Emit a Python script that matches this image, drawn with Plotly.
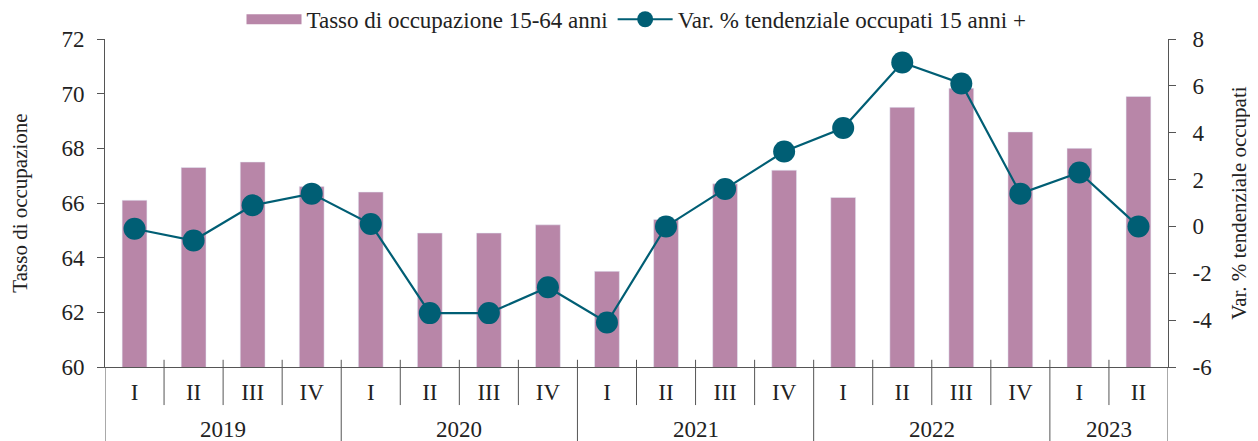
import plotly.graph_objects as go

# dati
anni = ["2019"] * 4 + ["2020"] * 4 + ["2021"] * 4 + ["2022"] * 4 + ["2023"] * 2
trimestri = ["I", "II", "III", "IV"] * 4 + ["I", "II"]

tasso_occupazione = [66.1, 67.3, 67.5, 66.6,
                     66.4, 64.9, 64.9, 65.2,
                     63.5, 65.4, 66.7, 67.2,
                     66.2, 69.5, 70.2, 68.6,
                     68.0, 69.9]
var_occupati = [-0.1, -0.6, 0.9, 1.4,
                0.1, -3.7, -3.7, -2.6,
                -4.1, 0.0, 1.6, 3.2,
                4.2, 7.0, 6.1, 1.4,
                2.3, 0.0]

tick_sx = [60, 62, 64, 66, 68, 70, 72]
tick_dx = [-6, -4, -2, 0, 2, 4, 6, 8]

FONT = "Liberation Serif"
AXIS_COL = "#555555"
BAR_COL = "#B886A8"
LINE_COL = "#005E74"

n = len(trimestri)
pos = list(range(n))

fig = go.Figure()

fig.add_trace(go.Bar(
    x=pos,
    y=tasso_occupazione,
    name="Tasso di occupazione 15-64 anni",
    marker=dict(color=BAR_COL),
    width=0.42,
    showlegend=False,
    yaxis="y"
))
# voce di legenda a rettangolo largo
fig.add_trace(go.Scatter(
    x=[None], y=[None],
    name="Tasso di occupazione 15-64 anni",
    mode="lines",
    line=dict(color=BAR_COL, width=12),
    yaxis="y"
))

fig.add_trace(go.Scatter(
    x=pos,
    y=var_occupati,
    name="Var. % tendenziale occupati 15 anni +",
    mode="lines+markers",
    line=dict(color=LINE_COL, width=2.2),
    marker=dict(color=LINE_COL, size=22),
    yaxis="y2"
))

# separatori trimestri / anni e etichette degli anni
for i in range(1, n):
    cambio_anno = anni[i] != anni[i - 1]
    fig.add_shape(type="line", xref="x", yref="paper",
                  x0=i - 0.5, x1=i - 0.5, y0=0.022,
                  y1=-0.23 if cambio_anno else -0.116,
                  line=dict(color=AXIS_COL, width=1))
for x_edge in (-0.5, n - 0.5):
    fig.add_shape(type="line", xref="x", yref="paper",
                  x0=x_edge, x1=x_edge, y0=0, y1=-0.23,
                  line=dict(color=AXIS_COL, width=1))

for anno in dict.fromkeys(anni):
    idx = [i for i, a in enumerate(anni) if a == anno]
    fig.add_annotation(x=sum(idx) / len(idx), y=-0.192, xref="x", yref="paper",
                       text=anno, showarrow=False, yanchor="middle",
                       font=dict(size=23))

# la pagina ha un margine di 8px: figura 1250x433
fig.update_layout(
    width=1250, height=433,
    margin=dict(l=97, r=90, t=31, b=74, autoexpand=False),
    paper_bgcolor="white",
    plot_bgcolor="white",
    font=dict(family=FONT, size=23, color="#222222"),
    showlegend=True,
    legend=dict(orientation="h", x=0.5, xanchor="center", y=1.06, yanchor="middle",
                font=dict(size=23), bgcolor="rgba(0,0,0,0)", itemwidth=55),
    xaxis=dict(
        range=[-0.5, n - 0.5],
        tickvals=pos, ticktext=trimestri,
        showline=True, linecolor=AXIS_COL, linewidth=1,
        ticks="", ticklabelstandoff=4,
        showgrid=False, zeroline=False,
        tickfont=dict(size=23),
    ),
    yaxis=dict(
        range=[60, 72], tickvals=tick_sx, ticktext=[str(v) for v in tick_sx],
        showline=True, linecolor=AXIS_COL, linewidth=1,
        ticks="outside", tickcolor=AXIS_COL, ticklen=7, ticklabelstandoff=8,
        showgrid=False, zeroline=False,
        title=dict(text="Tasso di occupazione", font=dict(size=21), standoff=30),
    ),
    yaxis2=dict(
        range=[-6, 8], tickvals=tick_dx, ticktext=[str(v) for v in tick_dx],
        overlaying="y", side="right",
        showline=True, linecolor=AXIS_COL, linewidth=1,
        ticks="outside", tickcolor=AXIS_COL, ticklen=7, ticklabelstandoff=12,
        showgrid=False, zeroline=False,
        title=dict(text="Var. % tendenziale occupati", font=dict(size=21), standoff=20),
    ),
)

fig.write_html("out.html")
